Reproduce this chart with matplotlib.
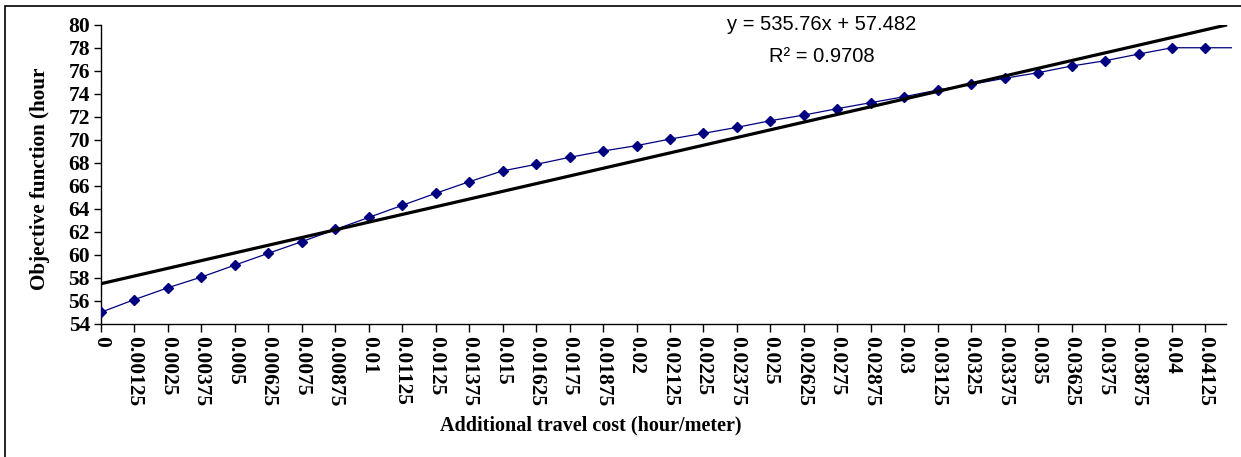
import matplotlib.pyplot as plt
from matplotlib.patches import Rectangle

# Additional travel cost (hour/meter) and resulting objective function (hours)
cost = [0, 0.00125, 0.0025, 0.00375, 0.005, 0.00625, 0.0075, 0.00875,
        0.01, 0.01125, 0.0125, 0.01375, 0.015, 0.01625, 0.0175, 0.01875,
        0.02, 0.02125, 0.0225, 0.02375, 0.025, 0.02625, 0.0275, 0.02875,
        0.03, 0.03125, 0.0325, 0.03375, 0.035, 0.03625, 0.0375, 0.03875,
        0.04, 0.04125, 0.0425]
objective = [55.0, 56.1, 57.13, 58.06, 59.1, 60.13, 61.14, 62.2,
             63.25, 64.3, 65.35, 66.36, 67.3, 67.87, 68.48, 69.03,
             69.5, 70.07, 70.57, 71.09, 71.67, 72.16, 72.72, 73.24,
             73.76, 74.34, 74.83, 75.36, 75.85, 76.43, 76.89, 77.47,
             78.02, 78.02, 78.02]

tick_labels = ['0', '0.00125', '0.0025', '0.00375', '0.005', '0.00625',
               '0.0075', '0.00875', '0.01', '0.01125', '0.0125', '0.01375',
               '0.015', '0.01625', '0.0175', '0.01875', '0.02', '0.02125',
               '0.0225', '0.02375', '0.025', '0.02625', '0.0275', '0.02875',
               '0.03', '0.03125', '0.0325', '0.03375', '0.035', '0.03625',
               '0.0375', '0.03875', '0.04', '0.04125']

# Linear trendline
slope = 535.76
intercept = 57.482
r2 = 0.9708
trend_x = [0, 0.042]

W, H = 1241, 457
fig = plt.figure(figsize=(W / 100, H / 100), dpi=100)
ax = fig.add_axes([101 / W, 1 - 323.7 / H, (1232 - 101) / W, (323.7 - 25) / H])

ax.plot(cost, objective, color='#000080', lw=0.9, marker='D', ms=5.3,
        markeredgecolor='#000080', markerfacecolor='#000080', zorder=3)
ax.plot(trend_x, [slope * x + intercept for x in trend_x], color='black',
        lw=2.3, zorder=4)

ax.set_xlim(0, 0.04224)
ax.set_ylim(54, 80)
ax.set_yticks(range(54, 81, 2))
ax.set_xticks(cost[:len(tick_labels)])
ax.set_xticklabels(tick_labels, rotation=-90)

tick_font = {'family': 'Liberation Serif', 'weight': 'bold', 'size': 15.5}
for lab in ax.get_xticklabels() + ax.get_yticklabels():
    lab.set_fontproperties(tick_font)

for side in ('top', 'right'):
    ax.spines[side].set_visible(False)
ax.spines['bottom'].set_bounds(0, 0.042)
ax.spines['left'].set_linewidth(1.0)
ax.spines['bottom'].set_linewidth(1.0)
ax.tick_params(axis='x', direction='out', length=6, width=1, pad=3)
ax.tick_params(axis='y', direction='out', length=5, width=1, pad=3)

fig.text(591 / W, 1 - 425 / H, 'Additional travel cost (hour/meter)',
         ha='center', va='center', family='Liberation Serif',
         weight='bold', size=14.5)
fig.text(40 / W, 1 - 179 / H, 'Objective function (hour', rotation=90,
         ha='center', va='center', family='Liberation Serif',
         weight='bold', size=15.2)

eq_font = {'family': 'Liberation Sans', 'size': 14.5}
fig.text(822 / W, 1 - 25 / H, f'y = {slope}x + {intercept}',
         ha='center', va='center', fontdict=eq_font)
fig.text(822 / W, 1 - 57 / H, f'R² = {r2}',
         ha='center', va='center', fontdict=eq_font)

# chart area border
fig.add_artist(Rectangle((5 / W, -0.1), 1.2, 1 - 6 / H + 0.1,
                         transform=fig.transFigure, fill=False,
                         edgecolor='black', lw=1.2))

fig.savefig('out.png', dpi=100)
